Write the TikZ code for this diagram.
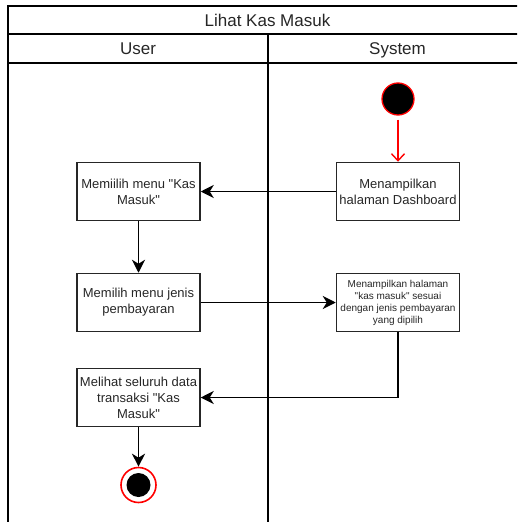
\documentclass[tikz,border=0pt]{standalone}
\usepackage{fontspec}
\setmainfont{Liberation Sans}[Ligatures=TeXOff]
\usetikzlibrary{arrows.meta}
\definecolor{ink}{HTML}{262626}
\definecolor{umlred}{HTML}{FF0000}
\begin{document}
\begin{tikzpicture}[x=1pt,y=-1pt,
  frame/.style={line width=1.5pt, draw=black},
  header/.style={text=ink, font=\fontsize{17}{20}\selectfont, inner sep=0pt, anchor=base},
  action/.style={draw=ink, line width=1.5pt, minimum width=123pt, minimum height=58pt,
    align=center, text=ink, font=\fontsize{13}{16}\selectfont, inner sep=2pt},
  smallaction/.style={action, font=\fontsize{10}{12}\selectfont},
  flow/.style={line width=1.6pt, draw=black, -{Stealth[length=13pt,width=13pt,inset=4pt]}},
  startflow/.style={line width=1.4pt, draw=umlred,
    -{Straight Barb[length=7pt,width=13pt,line width=1.4pt]}}]
\clip (0,0) rectangle (517,522);

% swimlane pool
\draw[frame] (8,522) -- (8,6) -- (530,6);
\draw[frame] (8,34) -- (530,34);
\draw[frame] (8,63) -- (530,63);
\draw[frame] (268,34) -- (268,522);
\node[header] (pool) at (267.5,26) {Lihat Kas Masuk};
\node[header] (laneuser) at (138,54.5) {User};
\node[header] (lanesys) at (397.5,54.5) {System};

% initial and final states
\node[circle, fill=black, draw=umlred, line width=1.3pt, minimum size=32pt, inner sep=0pt]
  (start) at (398,99) {};
\node[circle, fill=white, draw=umlred, line width=1.6pt, minimum size=35pt, inner sep=0pt]
  (end) at (138.5,485) {};
\node[circle, fill=black, minimum size=24pt, inner sep=0pt] (endcore) at (end) {};

% actions
\node[action] (dash) at (398,191.5) {Menampilkan\\halaman Dashboard};
\node[action] (menu) at (138.5,191.5) {Memiilih menu "Kas\\Masuk"};
\node[action] (jenis) at (138.5,302.5) {Memilih menu jenis\\pembayaran};
\node[smallaction] (tampil) at (398,302.5) {Menampilkan halaman\\"kas masuk" sesuai\\dengan jenis pembayaran\\yang dipilih};
\node[action] (lihat) at (138.5,397.5) {Melihat seluruh data\\transaksi "Kas\\Masuk"};

% control flow
\draw[startflow, shorten <=4pt] (start.south) -- (dash.north);
\draw[flow] (dash.west) -- (menu.east);
\draw[flow] (menu.south) -- (jenis.north);
\draw[flow] (jenis.east) -- (tampil.west);
\draw[flow] (tampil.south) |- (lihat.east);
\draw[flow] (lihat.south) -- (end.north);
\end{tikzpicture}
\end{document}
